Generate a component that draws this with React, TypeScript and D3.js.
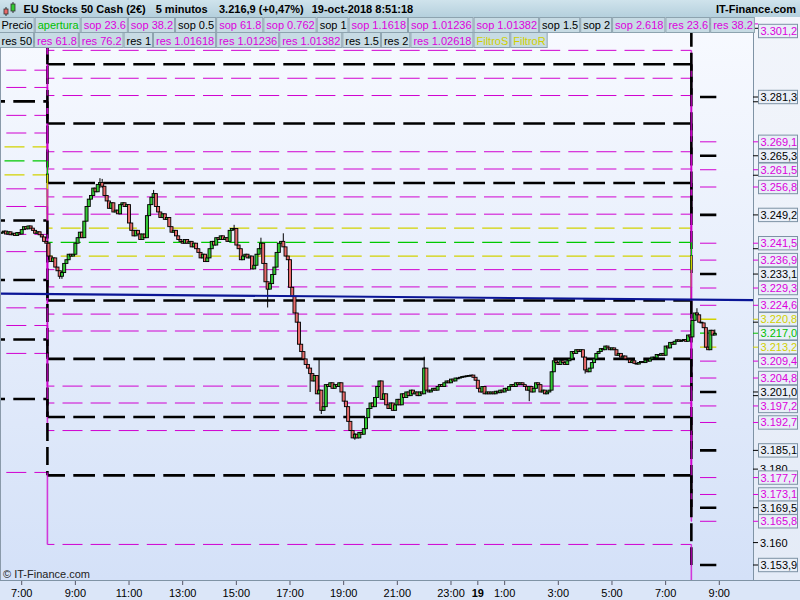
import React, { useMemo } from "react";
import * as d3 from "d3";

const W = 800;
const H = 600;

// ---------------- data ----------------
const firstCandleUTC = Date.UTC(2018, 9, 18, 6, 15); // first 5-min candle
const firstOpen = 3244.2;
const closes: number[] = [
  // 6:15 - 7:55
  3244.5, 3244.8, 3244.0, 3244.6, 3243.8, 3244.2, 3243.6, 3244.4, 3244.0,
  3245.2, 3246.0, 3245.4, 3246.2, 3245.6, 3245.0, 3244.2, 3244.6, 3243.8, 3243.2, 3242.0, 3241.5,
  // 8:00
  3238.0, 3236.5, 3237.5, 3235.0, 3234.0, 3232.5, 3233.5, 3236.0, 3237.0, 3238.5, 3238.0, 3238.5,
  // 9:00
  3241.5, 3243.0, 3244.5, 3243.0, 3247.5, 3251.5, 3253.5, 3254.5, 3256.5, 3255.5, 3257.5, 3258.0,
  // 10:00
  3257.0, 3254.5, 3253.0, 3251.0, 3252.5, 3250.0, 3250.5, 3249.5, 3252.0, 3252.5, 3251.5, 3252.0,
  // 11:00
  3247.0, 3245.0, 3243.5, 3245.0, 3244.0, 3242.5, 3244.0, 3243.0, 3249.0, 3252.0, 3254.0, 3255.0,
  // 12:00
  3251.5, 3250.0, 3248.5, 3249.5, 3248.0, 3248.5, 3246.0, 3244.5, 3245.0, 3243.5, 3242.5, 3242.0,
  // 13:00
  3241.5, 3242.5, 3241.5, 3242.0, 3240.5, 3241.5, 3240.0, 3239.0, 3237.5, 3238.5, 3236.5, 3237.5,
  // 14:00
  3240.0, 3242.0, 3241.0, 3243.0, 3242.5, 3243.5, 3242.5, 3243.0, 3242.0, 3245.0, 3245.5, 3245.5,
  // 15:00
  3241.0, 3240.0, 3237.0, 3238.0, 3238.5, 3237.5, 3238.0, 3234.5, 3235.5, 3238.5, 3240.0, 3241.5,
  // 16:00
  3236.0, 3231.0, 3229.0, 3230.5, 3233.0, 3235.0, 3239.0, 3241.5, 3242.0, 3240.5, 3238.0, 3237.0,
  // 17:00
  3229.5, 3227.0, 3222.5, 3220.0, 3214.0, 3212.0, 3210.0, 3208.5, 3207.5, 3206.0, 3204.0, 3205.5,
  // 18:00
  3200.5, 3201.5, 3196.0, 3197.0, 3203.0, 3202.5, 3203.5, 3202.0, 3203.0, 3202.5, 3203.5, 3201.0,
  // 19:00
  3198.5, 3197.0, 3193.0, 3190.5, 3188.5, 3189.5, 3188.5, 3190.0, 3189.5, 3191.0, 3194.0, 3196.5,
  // 20:00
  3198.0, 3197.0, 3199.5, 3202.5, 3204.0, 3199.0, 3200.5, 3197.5, 3196.5, 3198.0, 3196.0, 3197.5,
  // 21:00
  3199.0, 3197.5, 3200.5, 3199.5, 3201.0, 3200.0, 3201.5, 3200.5, 3201.0, 3200.0, 3201.0, 3200.5,
  // 22:00
  3207.5, 3201.5, 3201.0, 3201.5, 3202.0, 3201.5, 3202.5, 3203.0, 3202.5, 3203.5, 3204.0, 3203.5,
  // 23:00
  3204.5, 3204.0, 3204.8, 3204.8, 3205.0, 3205.2, 3205.3, 3205.4, 3205.5, 3205.6, 3205.0, 3204.2,
  // 0:00
  3202.0, 3201.0, 3202.5, 3200.5, 3201.0, 3200.5, 3201.0, 3200.5, 3201.2, 3200.8, 3201.5, 3201.0,
  // 1:00
  3202.0, 3201.5, 3202.5, 3203.0, 3202.5, 3203.5, 3203.0, 3203.5, 3203.0, 3202.5, 3201.5, 3202.5,
  // 2:00
  3201.0, 3202.0, 3203.5, 3203.0, 3201.0, 3201.5, 3200.5, 3201.0, 3201.5, 3206.5, 3209.5, 3209.0,
  // 3:00
  3208.5, 3209.5, 3209.0, 3208.5, 3209.5, 3210.0, 3212.0, 3211.5, 3212.5, 3212.0, 3212.5, 3210.5,
  // 4:00
  3207.0, 3206.5, 3207.5, 3209.0, 3210.0, 3211.5, 3212.0, 3212.8, 3212.5, 3213.5, 3213.0, 3212.5,
  // 5:00
  3213.0, 3212.5, 3211.0, 3211.5, 3210.5, 3210.8, 3210.0, 3209.8, 3209.0, 3209.5, 3208.8, 3208.6,
  // 6:00
  3209.0, 3209.3, 3209.0, 3209.7, 3209.4, 3210.0, 3210.5, 3210.3, 3211.2, 3211.0, 3211.5, 3211.0,
  // 7:00
  3213.5, 3213.0, 3214.5, 3214.0, 3214.8, 3215.2, 3214.8, 3215.0, 3215.3, 3214.8, 3216.5, 3216.0,
  // 8:00 (19-oct)
  3220.5, 3222.5, 3222.0, 3220.0, 3219.8, 3218.5, 3213.2, 3212.5, 3217.8, 3216.5, 3216.9,
];
// extra wick extremes: [candle index, high, low]
const wicks: [number, number, number][] = [
  [21, 3241.5, 3237.0], [26, 3234.0, 3231.8], [27, 3234.0, 3231.8],
  [44, 3259.2, 3256.5], [45, 3259.0, 3256.5], [68, 3256.0, 3254.0],
  [104, 3246.5, 3245.0], [116, 3243.0, 3240.0], [119, 3231.0, 3224.0],
  [126, 3244.2, 3240.5], [138, 3207.5, 3201.0], [142, 3210.0, 3200.5],
  [143, 3201.5, 3195.0], [158, 3189.8, 3188.0], [189, 3210.6, 3200.5],
  [236, 3202.5, 3198.5], [261, 3210.5, 3206.0], [311, 3223.8, 3222.0],
  [319, 3218.0, 3216.5],
];

const seriesKinds = [
  "yellow", "mag", "mag", "black", "mag", "mag", "black", "mag", "mag", "black", "mag", "black", "mag",
  "green", "yellow", "mag", "mag", "black", "mag", "mag", "black", "mag", "mag", "black", "mag", "black", "mag",
];
const levels17 = [
  3267.7, 3271.5, 3276.3, 3280.1, 3283.9, 3288.6, 3296.3, 3303.9, 3308.7, 3312.5, 3316.3, 3328.7, 3348.7,
  3263.9, 3260.1, 3256.3, 3251.5, 3247.7, 3243.9, 3239.2, 3231.5, 3223.9, 3219.1, 3215.3, 3211.5, 3199.1, 3179.1,
];
const levels18 = [
  3245.6, 3249.4, 3254.1, 3257.9, 3261.7, 3266.4, 3274.1, 3281.7, 3286.4, 3290.2, 3294.0, 3306.4, 3326.3,
  3241.75, 3238.0, 3234.3, 3229.6, 3225.9, 3222.2, 3217.6, 3210.0, 3202.6, 3198.0, 3194.2, 3190.5, 3178.3, 3159.5,
];
const levels19 = [
  3220.8, 3224.6, 3229.3, 3233.1, 3236.9, 3241.5, 3249.2, 3256.8, 3261.5, 3265.3, 3269.1, 3281.3, 3301.2,
  3217.0, 3213.2, 3209.4, 3204.8, 3201.0, 3197.2, 3192.7, 3185.1, 3177.7, 3173.1, 3169.5, 3165.8, 3153.9, 3134.5,
];

const trendLine = [
  { t: Date.UTC(2018, 9, 18, 6, 11, 30), p: 3227.8 },
  { t: Date.UTC(2018, 9, 19, 10, 15, 30), p: 3226.0 },
];

const priceTicks = [3160, 3180, 3200, 3220, 3240, 3260, 3280, 3300];
const priceTickLabels = [3160, 3180];
const timeTicks = [
  Date.UTC(2018, 9, 18, 7), Date.UTC(2018, 9, 18, 9), Date.UTC(2018, 9, 18, 11),
  Date.UTC(2018, 9, 18, 13), Date.UTC(2018, 9, 18, 15), Date.UTC(2018, 9, 18, 17),
  Date.UTC(2018, 9, 18, 19), Date.UTC(2018, 9, 18, 21), Date.UTC(2018, 9, 18, 23),
  Date.UTC(2018, 9, 19, 0), Date.UTC(2018, 9, 19, 1), Date.UTC(2018, 9, 19, 3),
  Date.UTC(2018, 9, 19, 5), Date.UTC(2018, 9, 19, 7), Date.UTC(2018, 9, 19, 9),
];
const dayBoundaries = [Date.UTC(2018, 9, 18, 7, 57, 30), Date.UTC(2018, 9, 19, 7, 57, 30)];

const legendRow1: [string, string][] = [
  ["Precio", "black"], ["apertura", "green"], ["sop 23.6", "mag"], ["sop 38.2", "mag"],
  ["sop 0.5", "black"], ["sop 61.8", "mag"], ["sop 0.762", "mag"], ["sop 1", "black"],
  ["sop 1.1618", "mag"], ["sop 1.01236", "mag"], ["sop 1.01382", "mag"], ["sop 1.5", "black"],
  ["sop 2", "black"], ["sop 2.618", "mag"], ["res 23.6", "mag"], ["res 38.2", "mag"],
];
const legendRow2: [string, string][] = [
  ["res 50", "black"], ["res 61.8", "mag"], ["res 76.2", "mag"], ["res 1", "black"],
  ["res 1.01618", "mag"], ["res 1.01236", "mag"], ["res 1.01382", "mag"], ["res 1.5", "black"],
  ["res 2", "black"], ["res 1.02618", "mag"], ["FiltroS", "yellow"], ["FiltroR", "yellow"],
];

const headerTitle = "EU Stocks 50 Cash (2€)";
const headerPeriod = "5 minutos";
const headerPrice = "3.216,9 (+0,47%)";
const headerDate = "19-oct-2018 8:51:18";
const brand = "IT-Finance.com";

// ---------------- styles ----------------
const FONT = "'Liberation Sans', Arial, sans-serif";
const textColor: Record<string, string> = {
  black: "#000", mag: "#dc00dc", green: "#00c000", yellow: "#d0d000",
};
const lineStyle: Record<string, { color: string; width: number; dash: number; gap: number; phase: number }> = {
  black: { color: "#000", width: 2.6, dash: 21.7, gap: 8.3, phase: 13.3 },
  mag: { color: "#d000d0", width: 1, dash: 20, gap: 8.1, phase: 6.3 },
  yellow: { color: "#d2d200", width: 1.3, dash: 20, gap: 8.1, phase: 4.5 },
  green: { color: "#00c800", width: 1.3, dash: 20, gap: 8.1, phase: 4.5 },
};

const PLOT = { left: 0, top: 17, right: 753, bottom: 580 };

export default function App() {
  const x = d3
    .scaleUtc()
    .domain([new Date(Date.UTC(2018, 9, 18, 7)), new Date(Date.UTC(2018, 9, 19, 9))])
    .range([21.7, 719.3]);
  const y = d3.scaleLinear().domain([3281.3, 3153.9]).range([97, 565]);

  const loc = d3.formatLocale({ decimal: ",", thousands: ".", grouping: [3], currency: ["", ""] });
  const f1 = loc.format(",.1f");
  const f0 = loc.format(",.0f");

  const candles = useMemo(() => {
    const wmap = new Map<number, [number, number]>();
    wicks.forEach(([i, h, l]) => wmap.set(i, [h, l]));
    return closes.map((c, i) => {
      const o = i === 0 ? firstOpen : closes[i - 1];
      const w = wmap.get(i);
      const hi = Math.max(o, c, w ? w[0] : -Infinity);
      const lo = Math.min(o, c, w ? w[1] : Infinity);
      return { t: firstCandleUTC + i * 300000, o, c, hi, lo };
    });
  }, []);

  const lastX = x(new Date(candles[candles.length - 1].t)) + 1.5;
  const xb1 = x(new Date(dayBoundaries[0]));
  const xb2 = x(new Date(dayBoundaries[1]));

  const legendBoxes = useMemo(() => {
    const ctx = document.createElement("canvas").getContext("2d")!;
    ctx.font = `11px ${FONT}`;
    const build = (row: [string, string][]) => {
      let cx = -1.5;
      return row.map(([label, kind]) => {
        const w = ctx.measureText(label).width + 5;
        const b = { x: cx, w, label, kind };
        cx += w;
        return b;
      });
    };
    return [build(legendRow1), build(legendRow2)];
  }, []);

  const mod = (a: number, m: number) => ((a % m) + m) % m;

  const levelLines: JSX.Element[] = [];
  const verticals: JSX.Element[] = [];
  seriesKinds.forEach((kind, j) => {
    const st = lineStyle[kind];
    const P = st.dash + st.gap;
    const segs = [
      { x0: PLOT.left, x1: xb1, p: levels17[j], phase: st.phase },
      { x0: xb1, x1: xb2, p: levels18[j], phase: st.phase },
      { x0: xb2, x1: lastX, p: levels19[j], phase: 700 },
    ];
    segs.forEach((s, si) => {
      const yy = y(s.p);
      levelLines.push(
        <line
          key={`h${j}-${si}`}
          x1={s.x0}
          x2={s.x1}
          y1={yy}
          y2={yy}
          stroke={st.color}
          strokeWidth={st.width}
          strokeDasharray={`${st.dash} ${st.gap}`}
          strokeDashoffset={mod(s.x0 - s.phase, P)}
        />
      );
    });
    [
      [xb1, levels17[j], levels18[j]],
      [xb2, levels18[j], levels19[j]],
    ].forEach(([xv, pa, pb], vi) => {
      verticals.push(
        <line
          key={`v${j}-${vi}`}
          x1={xv}
          x2={xv}
          y1={y(pa)}
          y2={y(pb)}
          stroke={kind === "black" ? "#000" : st.color}
          strokeWidth={kind === "black" ? 2.6 : kind === "mag" ? 1.6 : 1.3}
          strokeDasharray={kind === "black" ? "18 6" : "none"}
          opacity={kind === "mag" ? 0.75 : 1}
        />
      );
    });
  });

  // right axis labels for current day
  const axisLabels = levels19
    .map((p, j) => ({ p, kind: seriesKinds[j] }))
    .filter((d) => d.p >= 3150 && d.p <= 3303)
    .sort((a, b) => b.p - a.p);

  return (
    <svg width={W} height={H} style={{ display: "block", position: "absolute", left: 0, top: 0 }} fontFamily={FONT}>
      <defs>
        <linearGradient id="plotbg" x1="0" y1="0" x2="0" y2="1">
          <stop offset="0" stopColor="#f8faff" />
          <stop offset="1" stopColor="#d4e1f8" />
        </linearGradient>
        <linearGradient id="headbg" x1="0" y1="0" x2="0" y2="1">
          <stop offset="0" stopColor="#cfe3ec" />
          <stop offset="1" stopColor="#b5d0dd" />
        </linearGradient>
        <linearGradient id="axbg" x1="0" y1="0" x2="0" y2="1">
          <stop offset="0" stopColor="#f2f5fb" />
          <stop offset="1" stopColor="#e4ebf7" />
        </linearGradient>
        <clipPath id="plotclip">
          <rect x={PLOT.left} y={PLOT.top} width={PLOT.right - PLOT.left} height={PLOT.bottom - PLOT.top} />
        </clipPath>
      </defs>

      {/* backgrounds */}
      <rect x={0} y={0} width={W} height={H} fill="#dbe6f8" />
      <rect x={PLOT.left} y={PLOT.top} width={PLOT.right - PLOT.left} height={PLOT.bottom - PLOT.top} fill="url(#plotbg)" />
      <rect x={PLOT.right} y={PLOT.top} width={W - PLOT.right} height={PLOT.bottom - PLOT.top} fill="url(#axbg)" />

      <g clipPath="url(#plotclip)">
        {levelLines}
        {verticals}
        {/* candles */}
        {candles.map((d, i) => {
          const cx = x(new Date(d.t));
          const top = y(Math.max(d.o, d.c));
          const bot = y(Math.min(d.o, d.c));
          const h = Math.max(0.8, bot - top);
          return (
            <g key={i}>
              <line x1={cx} x2={cx} y1={y(d.hi)} y2={y(d.lo)} stroke="#000" strokeWidth={1} />
              <rect
                x={cx - 1.5}
                y={top}
                width={3}
                height={h}
                fill={d.c >= d.o ? "#33cc33" : "#e86a6a"}
                stroke="#000"
                strokeWidth={0.9}
              />
            </g>
          );
        })}
        {/* trend line */}
        <line
          x1={x(new Date(trendLine[0].t))}
          y1={y(trendLine[0].p)}
          x2={x(new Date(trendLine[1].t))}
          y2={y(trendLine[1].p)}
          stroke="#0a1596"
          strokeWidth={2.2}
        />
      </g>

      {/* plot frame */}
      <line x1={0.5} x2={0.5} y1={PLOT.top} y2={PLOT.bottom} stroke="#8a9aaa" />
      <line x1={PLOT.right + 0.5} x2={PLOT.right + 0.5} y1={PLOT.top} y2={PLOT.bottom + 1} stroke="#7f93a5" />
      <line x1={0} x2={W} y1={PLOT.bottom + 0.5} y2={PLOT.bottom + 0.5} stroke="#7f93a5" />

      {/* right price axis: plain ticks */}
      {priceTicks.map((p) => (
        <line key={`pt${p}`} x1={PLOT.right} x2={PLOT.right + 5} y1={y(p)} y2={y(p)} stroke="#000" />
      ))}
      {priceTickLabels.map((p) => (
        <text key={`ptl${p}`} x={760} y={y(p) + 4} fontSize={11} fill="#000">
          {f0(p)}
        </text>
      ))}
      {/* right price axis: level labels */}
      {axisLabels.map((d, i) => {
        const yy = y(d.p);
        const cy = Math.max(31, yy);
        return (
          <g key={`al${i}`}>
            <line x1={PLOT.right} x2={PLOT.right + 5} y1={yy} y2={yy} stroke={textColor[d.kind]} />
            <rect x={758.5} y={cy - 6.7} width={39} height={13.4} fill="#e9eff8" stroke="#7d92a4" />
            <text x={760.5} y={cy + 4} fontSize={11} fill={textColor[d.kind]}>
              {f1(d.p)}
            </text>
          </g>
        );
      })}

      {/* bottom time axis */}
      {timeTicks.map((t) => {
        const d = new Date(t);
        const xx = x(d);
        const isDay = d.getUTCHours() === 0;
        return (
          <g key={`tt${t}`}>
            <line x1={xx} x2={xx} y1={PLOT.bottom + 1} y2={PLOT.bottom + 5} stroke="#556" />
            <text
              x={xx}
              y={597}
              fontSize={11}
              textAnchor="middle"
              fontWeight={isDay ? "bold" : "normal"}
              fill="#000"
            >
              {isDay ? String(d.getUTCDate()) : `${d.getUTCHours()}:00`}
            </text>
          </g>
        );
      })}

      <text x={3} y={578} fontSize={11} fill="#222">
        © IT-Finance.com
      </text>

      {/* header */}
      <rect x={0} y={0} width={W} height={17} fill="url(#headbg)" />
      <g>
        <line x1={6} x2={6} y1={7} y2={16} stroke="#333" />
        <rect x={4} y={9} width={4} height={5} fill="#e86a6a" stroke="#333" strokeWidth={0.8} />
        <line x1={13} x2={13} y1={2} y2={13} stroke="#333" />
        <rect x={11} y={4} width={4} height={7} fill="#33cc33" stroke="#333" strokeWidth={0.8} />
      </g>
      <text x={23.5} y={13} fontSize={11} fontWeight="bold" fill="#000">{headerTitle}</text>
      <text x={155.7} y={13} fontSize={11} fontWeight="bold" fill="#000">{headerPeriod}</text>
      <text x={219} y={13} fontSize={11} fontWeight="bold" fill="#000">{headerPrice}</text>
      <text x={311.7} y={13} fontSize={11} fontWeight="bold" fill="#000">{headerDate}</text>
      <text x={796} y={13} fontSize={11} fontWeight="bold" fill="#000" textAnchor="end">{brand}</text>

      {/* legend */}
      {legendBoxes.map((row, ri) =>
        row.map((b, bi) => (
          <g key={`lg${ri}-${bi}`}>
            <rect
              x={b.x + 0.5}
              y={ri === 0 ? 17.5 : 32.5}
              width={b.w - 1}
              height={15}
              fill="#c7dbe4"
              stroke="#8da3af"
            />
            <text x={b.x + 3} y={ri === 0 ? 29.3 : 44.5} fontSize={11} fill={textColor[b.kind]}>
              {b.label}
            </text>
          </g>
        ))
      )}
    </svg>
  );
}
